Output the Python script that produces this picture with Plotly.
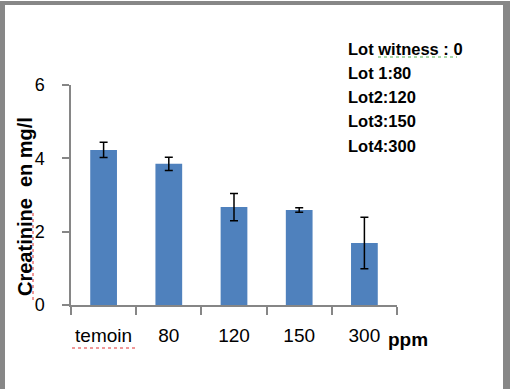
import plotly.graph_objects as go

categories = ["temoin", "80", "120", "150", "300"]
values = [4.23, 3.85, 2.67, 2.59, 1.69]
errors = [0.21, 0.18, 0.37, 0.06, 0.70]
y_ticks = [0, 2, 4, 6]
legend_lines = ["Lot witness : 0", "Lot 1:80", "Lot2:120", "Lot3:150", "Lot4:300"]

W, H = 510, 389
L, R, T, B = 71, 397, 85, 305  # plot area in pixels


def px_x(x):
    return (x - L) / (R - L)


def px_y(y):
    return (B - y) / (B - T)


fig = go.Figure()
fig.add_trace(go.Bar(
    x=categories, y=values,
    marker=dict(color="#4F81BD", line=dict(width=0)),
    width=0.41,
    error_y=dict(type="data", array=errors, visible=True,
                 color="black", thickness=1.5, width=4),
))

axis_col = "#868686"
fig.update_layout(
    width=W, height=H,
    margin=dict(l=L, r=W - R, t=T, b=H - B, pad=0),
    paper_bgcolor="white", plot_bgcolor="white",
    showlegend=False,
    font=dict(family="Liberation Sans", color="black"),
    xaxis=dict(
        type="category", range=[-0.5, 4.5],
        showline=True, linecolor=axis_col, linewidth=1.5,
        ticks="outside", tickson="boundaries", ticklen=8,
        tickcolor=axis_col, tickwidth=1.5, tickangle=0,
        tickfont=dict(size=19, family="Liberation Sans"),
        ticklabelstandoff=12, showgrid=False,
    ),
    yaxis=dict(
        range=[0, 6], tickvals=y_ticks,
        showline=True, linecolor=axis_col, linewidth=1.5,
        ticks="outside", ticklen=7, tickcolor=axis_col, tickwidth=1.5,
        tickfont=dict(size=18, family="Liberation Sans"),
        ticklabelstandoff=14, showgrid=False, zeroline=False,
    ),
)

# y-axis title placed as rotated text
fig.add_annotation(text="<b>Creatinine  en mg/l</b>", xref="paper", yref="paper",
                   x=px_x(25), y=px_y(207), xanchor="center", yanchor="middle",
                   textangle=-90, showarrow=False,
                   font=dict(size=20, family="Liberation Sans"))

# legend-like text box
ys = [49, 73, 97, 121, 146]
for txt, yp in zip(legend_lines, ys):
    fig.add_annotation(text="<b>" + txt + "</b>", xref="paper", yref="paper",
                       x=px_x(346), y=px_y(yp), xanchor="left", yanchor="middle",
                       showarrow=False, font=dict(size=16.5, family="Liberation Sans"))

fig.add_annotation(text="<b>ppm</b>", xref="paper", yref="paper",
                   x=px_x(386), y=px_y(339), xanchor="left", yanchor="middle",
                   showarrow=False, font=dict(size=19, family="Liberation Sans"))

# outer gray frame
frame = "#878787"
for x0, y0, x1, y1 in [(0, 1, 5, H + 5), (0, 1, W, 5), (503, 1, W + 5, H + 5)]:
    fig.add_shape(type="rect", xref="paper", yref="paper",
                  x0=px_x(x0), x1=px_x(x1), y0=px_y(y0), y1=px_y(y1),
                  fillcolor=frame, line=dict(width=0), layer="above")

# spell-check underlines
fig.add_shape(type="line", xref="paper", yref="paper",
              x0=px_x(72), x1=px_x(137), y0=px_y(348), y1=px_y(348),
              line=dict(color="#e03030", width=1, dash="dot"))
fig.add_shape(type="line", xref="paper", yref="paper",
              x0=px_x(33), x1=px_x(33), y0=px_y(300), y1=px_y(212),
              line=dict(color="#e03030", width=1, dash="dot"))
fig.add_shape(type="line", xref="paper", yref="paper",
              x0=px_x(378), x1=px_x(457), y0=px_y(57), y1=px_y(57),
              line=dict(color="#50b050", width=1, dash="dot"))

fig.write_html("out.html")
